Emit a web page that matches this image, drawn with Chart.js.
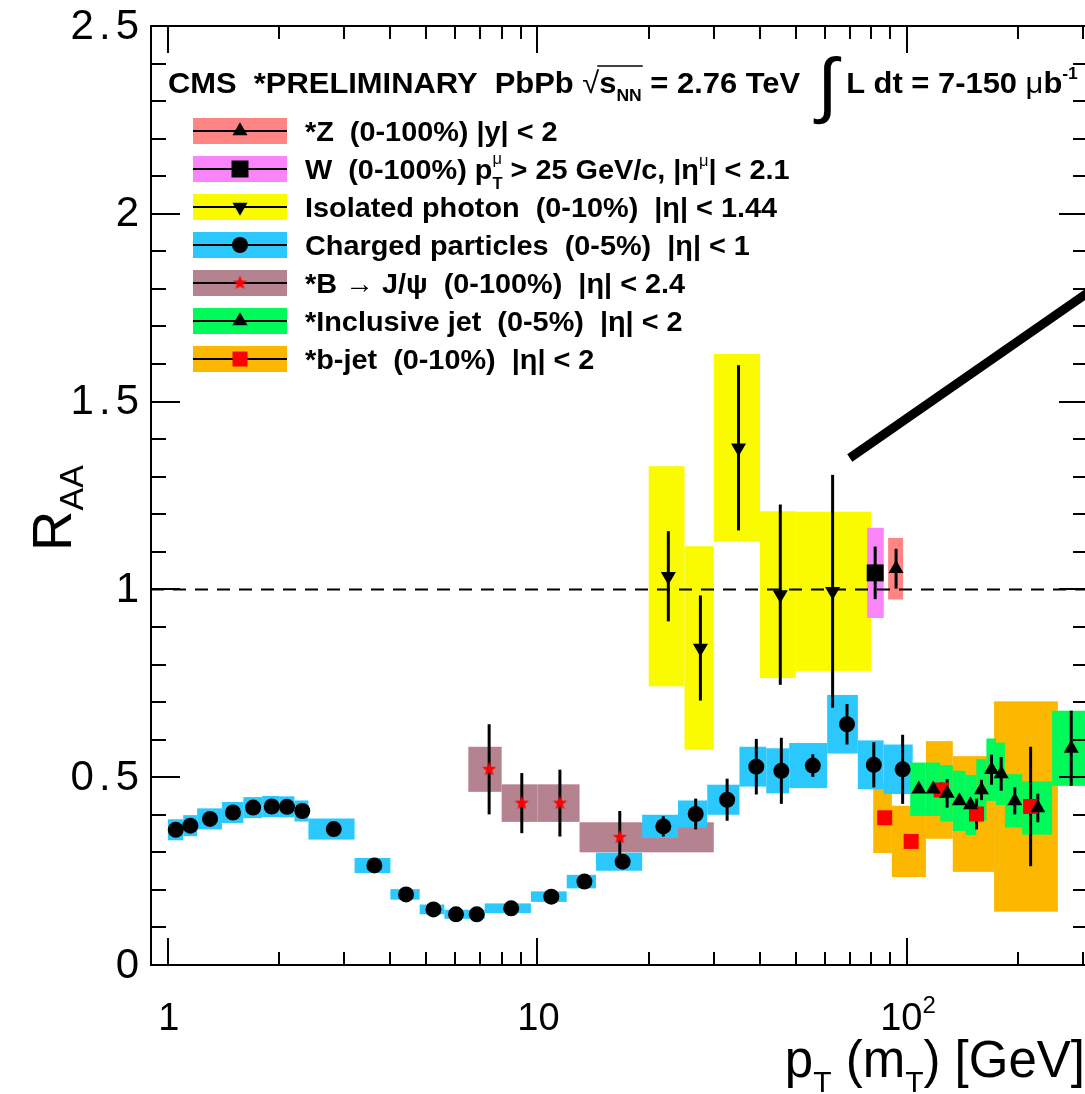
<!DOCTYPE html>
<html>
<head>
<meta charset="utf-8">
<script src="https://cdn.jsdelivr.net/npm/chart.js@4.4.0/dist/chart.umd.min.js"></script>
<style>
  html, body { margin: 0; padding: 0; background: #fff; overflow: hidden; }
  #wrap { position: relative; width: 1100px; height: 1094px; }
</style>
</head>
<body>
<div id="wrap"><canvas id="raa"></canvas></div>
<script>
// ---- data ----
// charged particles (0-5%)
const chPt = [1.05, 1.15, 1.30, 1.50, 1.70, 1.91, 2.10, 2.31, 2.81, 3.62, 4.41, 5.23, 6.02, 6.85, 8.49, 10.9, 13.4, 17.0, 21.9, 26.8, 32.6, 39.1, 45.7, 55.6, 68.8, 81.3, 97.3];
const chRaa = [0.360, 0.371, 0.389, 0.406, 0.419, 0.422, 0.421, 0.410, 0.362, 0.265, 0.188, 0.148, 0.135, 0.135, 0.151, 0.182, 0.222, 0.275, 0.369, 0.402, 0.440, 0.528, 0.517, 0.531, 0.641, 0.533, 0.521];
const chStat = [0.005, 0.005, 0.005, 0.005, 0.005, 0.005, 0.005, 0.005, 0.005, 0.005, 0.005, 0.005, 0.005, 0.005, 0.008, 0.008, 0.01, 0.01, 0.027, 0.041, 0.056, 0.074, 0.088, 0.03, 0.054, 0.06, 0.092];
const chSys = [0.028, 0.028, 0.028, 0.028, 0.028, 0.028, 0.028, 0.028, 0.028, 0.020, 0.014, 0.013, 0.012, 0.012, 0.013, 0.014, 0.018, 0.024, 0.031, 0.036, 0.040, 0.053, 0.060, 0.060, 0.078, 0.065, 0.066];
const chEdges = [1.0, 1.1, 1.2, 1.4, 1.6, 1.8, 2.0, 2.2, 2.4, 3.2, 4.0, 4.8, 5.6, 6.4, 7.2, 9.6, 12.0, 14.4, 19.2, 24.0, 28.8, 35.2, 41.6, 48.0, 60.8, 73.6, 86.4, 103.6];

// isolated photon (0-10%)
const phPt = [22.6, 27.6, 35.0, 45.4, 62.9];
const phRaa = [1.035, 0.844, 1.377, 0.986, 0.995];
const phStat = [0.12, 0.14, 0.22, 0.24, 0.31];
const phSys = [0.293, 0.271, 0.25, 0.222, 0.212];
const phEdges = [20, 25, 30, 40, 50, 80];

// W and Z (0-100%)
const wPt = [82.0], wRaa = [1.044], wStat = [0.07], wSys = [0.12], wEdges = [78.0, 86.5];
const zPt = [93.4], zRaa = [1.055], zStat = [0.053], zSys = [0.082], zEdges = [88.9, 97.6];

// B -> J/psi (0-100%)
const bjPt = [7.40, 9.07, 11.5, 16.7];
const bjRaa = [0.521, 0.431, 0.431, 0.340];
const bjStat = [0.12, 0.08, 0.089, 0.07];
const bjSys = [0.06, 0.05, 0.05, 0.04];
const bjEdges = [6.5, 8, 10, 13, 30];

// inclusive jet (0-5%)
const jetPt = [107.6, 117.7, 128.4, 138.6, 148.5, 159.0, 169.3, 179.8, 195.7, 225.9, 278.2];
const jetRaa = [0.468, 0.468, 0.457, 0.437, 0.426, 0.466, 0.520, 0.509, 0.437, 0.418, 0.577];
const jetStat = [0.01, 0.01, 0.038, 0.01, 0.01, 0.027, 0.04, 0.045, 0.036, 0.038, 0.1];
const jetSys = [0.071, 0.071, 0.075, 0.08, 0.08, 0.082, 0.083, 0.083, 0.071, 0.071, 0.10];
const jetEdges = [102, 112, 123, 133, 144, 154, 164, 174, 184, 205, 247, 310];

// b-jet (0-10%)
const bjetPt = [87.0, 102.6, 123.7, 154.2, 216];
const bjetRaa = [0.392, 0.329, 0.466, 0.402, 0.422];
const bjetStat = [0, 0, 0.02, 0.041, 0.159];
const bjetSys = [0.094, 0.095, 0.13, 0.154, 0.28];
const bjetEdges = [81, 91, 112.5, 133, 172, 256];

// axes
const xTickValues = [1, 10, 100];
const xTickLabels = ['1', '10', '10^2'];
const yTickValues = [0, 0.5, 1, 1.5, 2, 2.5];
const yTickLabels = ['0', '0.5', '1', '1.5', '2', '2.5'];
const pointerLine = [[70, 1.35], [330, 1.81]];

// ---- styling helpers ----
const F = '"Liberation Sans", Arial, Helvetica, sans-serif';
const B = s => "bold " + s + "px " + F;
const N = s => s + "px " + F;

function starImage(r, color) {
  const c = document.createElement("canvas");
  c.width = c.height = 2 * r + 2;
  const g = c.getContext("2d");
  g.fillStyle = color;
  g.beginPath();
  for (let k = 0; k < 10; k++) {
    const rr = k % 2 === 0 ? r : r * 0.42;
    const a = -Math.PI / 2 + k * Math.PI / 5;
    g.lineTo(r + 1 + rr * Math.cos(a), r + 1 + rr * Math.sin(a));
  }
  g.closePath();
  g.fill();
  return c;
}
const redStar = starImage(7.5, "#ff0000");

const LF = B(28);
// legend order
const series = [
  { pt: zPt, raa: zRaa, stat: zStat, sys: zSys, edges: zEdges, fill: "#ff8585",
    style: "triangle", radius: 8.7, rot: 0, color: "#000",
    label: [{ t: "*Z  (0-100%) |y| < 2", f: LF }] },
  { pt: wPt, raa: wRaa, stat: wStat, sys: wSys, edges: wEdges, fill: "#fa84fa",
    style: "rect", radius: 12, rot: 0, color: "#000",
    label: [{ t: "W  (0-100%) p", f: LF }, { t: "T", f: B(16), dy: 10 }, { t: "\u03bc", f: N(16), dy: -15, back: true },
            { t: " > 25 GeV/c, |\u03b7", f: LF }, { t: "\u03bc", f: N(16), dy: -13 }, { t: "| < 2.1", f: LF }] },
  { pt: phPt, raa: phRaa, stat: phStat, sys: phSys, edges: phEdges, fill: "#fbfb00",
    style: "triangle", radius: 8.7, rot: 180, color: "#000",
    label: [{ t: "Isolated photon  (0-10%)  |\u03b7| < 1.44", f: LF }] },
  { pt: chPt, raa: chRaa, stat: chStat, sys: chSys, edges: chEdges, fill: "#2ac8fc",
    style: "circle", radius: 8, rot: 0, color: "#000",
    label: [{ t: "Charged particles  (0-5%)  |\u03b7| < 1", f: LF }] },
  { pt: bjPt, raa: bjRaa, stat: bjStat, sys: bjSys, edges: bjEdges, fill: "#b58290",
    style: redStar, radius: 7.5, rot: 0, color: "#ff0000",
    label: [{ t: "*B \u2192 J/\u03c8  (0-100%)  |\u03b7| < 2.4", f: LF }] },
  { pt: jetPt, raa: jetRaa, stat: jetStat, sys: jetSys, edges: jetEdges, fill: "#00fa5a",
    style: "triangle", radius: 8.7, rot: 0, color: "#000",
    label: [{ t: "*Inclusive jet  (0-5%)  |\u03b7| < 2", f: LF }] },
  { pt: bjetPt, raa: bjetRaa, stat: bjetStat, sys: bjetSys, edges: bjetEdges, fill: "#fcb800",
    style: "rect", radius: 10.6, rot: 0, color: "#ff0000",
    label: [{ t: "*b-jet  (0-10%)  |\u03b7| < 2", f: LF }] },
];
const [sZ, sW, sPh, sCh, sBj, sJet, sBjet] = series;
const boxOrder = [sBjet, sBj, sCh, sJet, sPh, sW, sZ];

// rich text with optional horizontal stretch; returns [start, end] per part
function drawRuns(ctx, x, y, parts, sx, dry) {
  sx = sx || 1;
  let cx = 0, lastStart = 0, lastEnd = 0;
  const spans = [];
  ctx.save();
  ctx.translate(x, y);
  ctx.scale(sx, 1);
  for (const p of parts) {
    ctx.font = p.f;
    const start = p.back ? lastStart : cx;
    const w = ctx.measureText(p.t).width;
    if (!dry) ctx.fillText(p.t, start, p.dy || 0);
    const end = start + w;
    cx = p.back ? Math.max(lastEnd, end) : end;
    lastStart = start;
    lastEnd = cx;
    spans.push([x + start * sx, x + end * sx]);
  }
  ctx.restore();
  spans.total = cx * sx;
  return spans;
}

// right-aligned label with extra spacing between characters
function drawSpaced(ctx, text, right, y, gap) {
  const chars = text.split("");
  const ws = chars.map(c => ctx.measureText(c).width);
  let x = right - ws.reduce((a, b) => a + b, 0) - gap * (chars.length - 1);
  chars.forEach((c, i) => { ctx.fillText(c, x, y); x += ws[i] + gap; });
}

const boxPlugin = {
  id: "sysBoxes",
  beforeDatasetsDraw(chart) {
    const { ctx, chartArea: a, scales: { x, y } } = chart;
    ctx.save();
    ctx.beginPath();
    ctx.rect(a.left, a.top, a.right - a.left, a.bottom - a.top);
    ctx.clip();
    for (const s of boxOrder) {
      ctx.fillStyle = s.fill;
      s.pt.forEach((v, i) => {
        const x0 = x.getPixelForValue(s.edges[i]);
        const x1 = x.getPixelForValue(s.edges[i + 1]);
        const y0 = y.getPixelForValue(s.raa[i] + s.sys[i]);
        const y1 = y.getPixelForValue(s.raa[i] - s.sys[i]);
        ctx.fillRect(x0, y0, x1 - x0, y1 - y0);
      });
    }
    // dashed unity line
    ctx.strokeStyle = "#000";
    ctx.lineWidth = 2;
    ctx.setLineDash([13, 9]);
    ctx.beginPath();
    ctx.moveTo(a.left, y.getPixelForValue(1));
    ctx.lineTo(a.right, y.getPixelForValue(1));
    ctx.stroke();
    ctx.setLineDash([]);
    // stat error bars
    ctx.lineWidth = 3;
    for (const s of boxOrder) {
      s.pt.forEach((v, i) => {
        if (!s.stat[i]) return;
        const xp = x.getPixelForValue(v);
        ctx.beginPath();
        ctx.moveTo(xp, y.getPixelForValue(s.raa[i] + s.stat[i]));
        ctx.lineTo(xp, y.getPixelForValue(s.raa[i] - s.stat[i]));
        ctx.stroke();
      });
    }
    ctx.restore();
  },
};

const framePlugin = {
  id: "frame",
  afterDatasetsDraw(chart) {
    const { ctx, chartArea: a, scales: { x, y } } = chart;
    ctx.save();
    ctx.strokeStyle = "#000";
    ctx.fillStyle = "#000";

    // pointer line
    ctx.lineWidth = 9;
    ctx.beginPath();
    ctx.moveTo(x.getPixelForValue(pointerLine[0][0]), y.getPixelForValue(pointerLine[0][1]));
    ctx.lineTo(x.getPixelForValue(pointerLine[1][0]), y.getPixelForValue(pointerLine[1][1]));
    ctx.stroke();

    // frame
    ctx.lineWidth = 2;
    ctx.strokeRect(a.left, a.top, a.right - a.left, a.bottom - a.top);

    // ticks
    ctx.beginPath();
    for (let d = 1; d <= 100; d *= 10) {
      for (let m = 1; m <= 9; m++) {
        const v = d * m;
        if (v < x.min || v > x.max) continue;
        const xp = Math.round(x.getPixelForValue(v));
        const len = m === 1 ? 27 : 13;
        ctx.moveTo(xp, a.bottom); ctx.lineTo(xp, a.bottom - len);
        ctx.moveTo(xp, a.top); ctx.lineTo(xp, a.top + len);
      }
    }
    for (let k = 0; k <= 25; k++) {
      const yp = Math.round(y.getPixelForValue(k / 10));
      const major = k % 5 === 0;
      ctx.moveTo(a.left, yp); ctx.lineTo(a.left + (major ? 29 : 15), yp);
      ctx.moveTo(a.right, yp); ctx.lineTo(a.right - (major ? 27 : 13), yp);
    }
    ctx.stroke();

    // tick labels
    ctx.textBaseline = "alphabetic";
    xTickValues.forEach((v, i) => {
      const [base, sup] = xTickLabels[i].split("^");
      const parts = [{ t: base, f: N(38) }];
      if (sup) parts.push({ t: sup, f: N(24), dy: -17 });
      const w = drawRuns(ctx, 0, 0, parts, 1, true).total;
      drawRuns(ctx, x.getPixelForValue(v) - w / 2 + 1, 1030, parts);
    });
    ctx.textBaseline = "middle";
    ctx.font = N(42);
    yTickValues.forEach((v, i) => drawSpaced(ctx, yTickLabels[i], 139, y.getPixelForValue(v) + 1, 5));
    ctx.textBaseline = "alphabetic";

    // axis titles
    const xt = [{ t: "p", f: N(51) }, { t: "T", f: N(30), dy: 15 }, { t: " (m", f: N(51) },
                { t: "T", f: N(30), dy: 15 }, { t: ") [GeV]", f: N(51) }];
    const xw = drawRuns(ctx, 0, 0, xt, 1, true).total;
    drawRuns(ctx, 1085 - xw, 1077, xt);
    const yt = [{ t: "R", f: N(56) }, { t: "AA", f: N(34), dy: 12 }];
    const yw = drawRuns(ctx, 0, 0, yt, 1, true).total;
    ctx.save();
    ctx.translate(71, 508 + yw / 2);
    ctx.rotate(-Math.PI / 2);
    drawRuns(ctx, 0, 0, yt);
    ctx.restore();

    // header
    const head = [{ t: "CMS  *PRELIMINARY  PbPb", f: B(30) }, { t: " \u221a", f: N(30) }, { t: "s", f: B(30) },
                  { t: "NN", f: B(17), dy: 8 }, { t: " = 2.76 TeV  ", f: B(30) }, { t: "\u222b", f: N(72), dy: 16 },
                  { t: " L dt = 7-150 ", f: B(30) }, { t: "\u03bc", f: N(30) }, { t: "b", f: B(30) },
                  { t: "-1", f: B(17), dy: -14 }];
    const hs = drawRuns(ctx, 168, 93, head, 1.03);
    ctx.lineWidth = 1.5;
    ctx.beginPath();
    ctx.moveTo(hs[2][0] - 2, 66); ctx.lineTo(hs[3][1] + 1, 66);
    ctx.stroke();

    // legend
    series.forEach((s, i) => {
      const cy = 131 + i * 38;
      ctx.fillStyle = s.fill;
      ctx.fillRect(193, cy - 13, 94, 26);
      ctx.strokeStyle = "#000";
      ctx.lineWidth = 2;
      ctx.beginPath();
      ctx.moveTo(193, cy); ctx.lineTo(287, cy);
      ctx.stroke();
      ctx.fillStyle = s.color;
      Chart.helpers.drawPoint(ctx, { pointStyle: s.style, radius: s.radius, rotation: s.rot, borderWidth: 0 }, 240, cy);
      ctx.fillStyle = "#000";
      drawRuns(ctx, 305, cy + 10, s.label, 1.03);
    });
    ctx.restore();
  },
};

// top of list is drawn last (on top)
const drawOrder = [sJet, sZ, sW, sPh, sCh, sBj, sBjet];
const datasets = drawOrder.map(s => ({
  data: s.pt.map((v, i) => ({ x: v, y: s.raa[i] })),
  showLine: false,
  pointStyle: s.style,
  pointRadius: s.radius,
  pointRotation: s.rot,
  pointBackgroundColor: s.color,
  pointBorderWidth: 0,
  pointHoverRadius: s.radius,
}));

new Chart(document.getElementById("raa"), {
  type: "scatter",
  data: { datasets },
  options: {
    responsive: true,
    maintainAspectRatio: false,
    animation: false,
    devicePixelRatio: 1,
    events: [],
    layout: { padding: { left: 151, top: 26, right: 14, bottom: 129 } },
    scales: {
      x: { type: "logarithmic", min: 0.9, max: 305, display: false },
      y: { type: "linear", min: 0, max: 2.5, display: false },
    },
    plugins: { legend: { display: false }, tooltip: { enabled: false } },
  },
  plugins: [boxPlugin, framePlugin],
});
</script>
</body>
</html>
